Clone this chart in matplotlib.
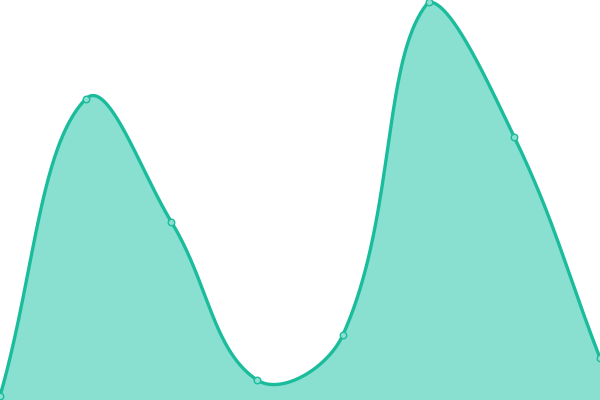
import numpy as np
import matplotlib
matplotlib.use("Agg")
import matplotlib.pyplot as plt

categories = list(range(8))
values = [4, 301, 178, 20, 65, 398, 263, 42]

LINE = "#1abc9c"
FILL = "#89e0d0"

W, H = 600, 400
SX = W / 7.0

def spline(xs, ys, tension=0.4, n=80):
    # tension spline with control points capped to the plot area (pixel space)
    P = [np.array([x * SX, H - y], float) for x, y in zip(xs, ys)]
    N = len(P)
    cprev, cnext = [], []
    for i in range(N):
        prev = P[i-1] if i > 0 else P[i]
        cur = P[i]
        nxt = P[i+1] if i < N - 1 else P[i]
        d01 = np.linalg.norm(cur - prev); d12 = np.linalg.norm(nxt - cur)
        s01 = d01 / (d01 + d12) if d01 + d12 else 0
        s12 = d12 / (d01 + d12) if d01 + d12 else 0
        fa, fb = tension * s01, tension * s12
        cp = cur - fa * (nxt - prev)
        cn = cur + fb * (nxt - prev)
        cp = np.clip(cp, [0, 0], [W, H]); cn = np.clip(cn, [0, 0], [W, H])
        cprev.append(cp); cnext.append(cn)
    out = []
    for i in range(N - 1):
        p1, c1, c2, p2 = P[i], cnext[i], cprev[i+1], P[i+1]
        t = np.linspace(0, 1, n, endpoint=(i == N - 2))[:, None]
        out.append((1-t)**3 * p1 + 3*(1-t)**2*t * c1 + 3*(1-t)*t**2 * c2 + t**3 * p2)
    pts = np.vstack(out)
    return pts[:, 0] / SX, H - pts[:, 1]

fig = plt.figure(figsize=(6, 4), dpi=100)
ax = fig.add_axes([0, 0, 1, 1])
cx, cy = spline(categories, values)
ax.fill_between(cx, 0, cy, color=FILL, linewidth=0)
ax.plot(cx, cy, color=LINE, linewidth=2.4, solid_capstyle="round")
ax.scatter(categories, values, s=22, facecolor=FILL, edgecolor=LINE, linewidth=1, zorder=3, clip_on=False)
ax.set_xlim(0, 7)
ax.set_ylim(0, 400)
ax.axis("off")
fig.savefig("out.png", dpi=100)
